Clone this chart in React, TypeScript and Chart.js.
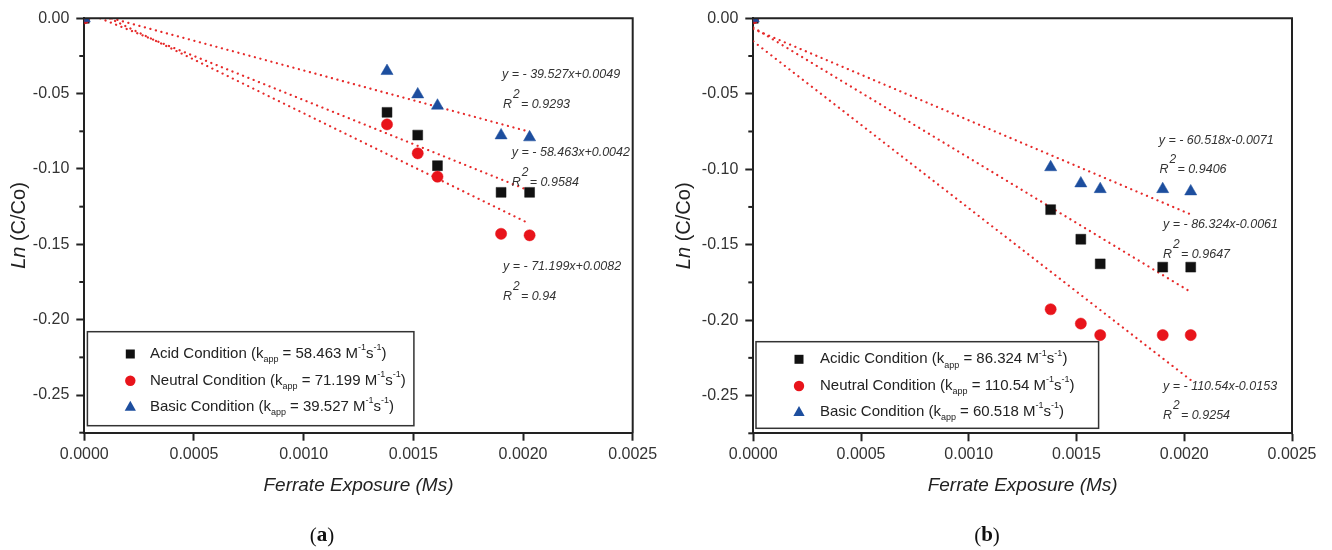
import React, { useEffect, useRef } from 'react';
import { Chart, registerables } from 'chart.js';

Chart.register(...registerables);

// ---------- data ----------
const exposure = [0, 0.00138, 0.00152, 0.00161, 0.0019, 0.00203];

const acidA = [0, -0.0624, -0.0775, -0.0978, -0.1155, -0.1155];
const neutralA = [0, -0.0704, -0.0896, -0.1051, -0.143, -0.144];
const basicA = [0, -0.035, -0.0505, -0.058, -0.0777, -0.079];
const slopesA = [-58.463, -71.199, -39.527];
const interceptsA = [0.0042, 0.0082, 0.0049];
const r2A = [0.9584, 0.94, 0.9293];
const namesA = ['Acid Condition', 'Neutral Condition', 'Basic Condition'];

const acidB = [0, -0.1268, -0.1464, -0.1627, -0.1649, -0.1649];
const neutralB = [0, -0.1928, -0.2023, -0.2099, -0.2099, -0.2099];
const basicB = [0, -0.0987, -0.1094, -0.1132, -0.1132, -0.1147];
const slopesB = [-86.324, -110.54, -60.518];
const interceptsB = [-0.0061, -0.0153, -0.0071];
const r2B = [0.9647, 0.9254, 0.9406];
const namesB = ['Acidic Condition', 'Neutral Condition', 'Basic Condition'];

const xMin = 0;
const xMax = 0.0025;
const xStep = 0.0005;
const yMin = -0.275;
const yMax = 0;
const yStep = 0.05;
const yMinorTicks = [-0.025, -0.075, -0.125, -0.175, -0.225, -0.275];

const xTitle = 'Ferrate Exposure (Ms)';
const yTitleItalic = 'Ln';
const yTitleRest = ' (C/Co)';

// ---------- styles ----------
const FONT = "'Liberation Sans', Arial, Helvetica, sans-serif";
const SERIF = "'Liberation Serif', 'Times New Roman', serif";
const colors = ['#111111', '#e8141b', '#1d4e9e'];
const styles = ['rect', 'circle', 'triangle'];
const radii = [7, 5.6, 7];
const LINE_RED = '#e62a2a';

type Panel = {
  left: number; width: number; height: number;
  area: { left: number; top: number; right: number; bottom: number };
  series: number[][]; slopes: number[]; intercepts: number[]; r2: number[]; names: string[];
  legendBox: number[]; legendMarkerX: number; legendTextX: number; legendRows: number[];
  eqPos: number[][]; rPos: number[][];
  yTitleX: number; caption: string; captionPos: number[];
};

const panels: Panel[] = [
  {
    left: 0, width: 666, height: 550,
    area: { left: 84.3, top: 18.3, right: 632.7, bottom: 432.7 },
    series: [acidA, neutralA, basicA], slopes: slopesA, intercepts: interceptsA, r2: r2A, names: namesA,
    legendBox: [87.4, 331.7, 413.9, 425.7], legendMarkerX: 130.3, legendTextX: 150, legendRows: [354, 380.7, 406.7],
    eqPos: [[511.8, 152.7], [503, 266.7], [502, 75]],
    rPos: [[511.8, 182.7], [503, 296.7], [503, 105]],
    yTitleX: 19, caption: 'a', captionPos: [322, 536],
  },
  {
    left: 666, width: 666, height: 550,
    area: { left: 87.3, top: 18.3, right: 626, bottom: 433.3 },
    series: [acidB, neutralB, basicB], slopes: slopesB, intercepts: interceptsB, r2: r2B, names: namesB,
    legendBox: [90, 341.7, 432.6, 428.3], legendMarkerX: 133, legendTextX: 154, legendRows: [359.3, 386, 412],
    eqPos: [[497, 225], [497, 386.7], [492.7, 141]],
    rPos: [[497, 254.3], [497, 416], [493.5, 170]],
    yTitleX: 18.7, caption: 'b', captionPos: [321, 536],
  },
];

type Run = { t: string; size: number; dy?: number; style?: string };

function drawRuns(ctx: CanvasRenderingContext2D, x: number, y: number, runs: Run[], family: string, color: string) {
  let cx = x;
  ctx.fillStyle = color;
  ctx.textBaseline = 'middle';
  ctx.textAlign = 'left';
  for (const r of runs) {
    ctx.font = `${r.style || ''} ${r.size}px ${family}`;
    ctx.fillText(r.t, cx, y + (r.dy || 0));
    cx += ctx.measureText(r.t).width;
  }
  return cx - x;
}

function drawMarker(ctx: CanvasRenderingContext2D, i: number, x: number, y: number) {
  ctx.fillStyle = colors[i];
  ctx.beginPath();
  if (i === 0) {
    ctx.rect(x - 4.5, y - 4.5, 9, 9);
  } else if (i === 1) {
    ctx.arc(x, y, 5.2, 0, Math.PI * 2);
  } else {
    ctx.moveTo(x, y - 6);
    ctx.lineTo(x + 5.6, y + 4);
    ctx.lineTo(x - 5.6, y + 4);
    ctx.closePath();
  }
  ctx.fill();
}

function fmtEq(m: number, b: number) {
  return `y = - ${Math.abs(m)}x${b >= 0 ? '+' : '-'}${Math.abs(b)}`;
}

function makeOverlay(p: Panel) {
  return {
    id: 'overlay' + p.caption,
    afterDraw(chart: any) {
      const ctx: CanvasRenderingContext2D = chart.ctx;
      const a = chart.chartArea;
      const ys = chart.scales.y;
      ctx.save();
      // frame top/right
      ctx.strokeStyle = '#222';
      ctx.lineWidth = 2;
      ctx.beginPath();
      ctx.moveTo(a.left - 1, a.top);
      ctx.lineTo(a.right, a.top);
      ctx.lineTo(a.right, a.bottom + 1);
      ctx.stroke();
      // minor y ticks
      ctx.lineWidth = 2;
      ctx.strokeStyle = '#222';
      for (const v of yMinorTicks) {
        const py = ys.getPixelForValue(v);
        ctx.beginPath();
        ctx.moveTo(a.left - 5, py);
        ctx.lineTo(a.left, py);
        ctx.stroke();
      }
      // legend box
      const [bx0, by0, bx1, by1] = p.legendBox;
      ctx.fillStyle = '#ffffff';
      ctx.fillRect(bx0, by0, bx1 - bx0, by1 - by0);
      ctx.strokeStyle = '#333';
      ctx.lineWidth = 1.5;
      ctx.strokeRect(bx0, by0, bx1 - bx0, by1 - by0);
      for (let i = 0; i < 3; i++) {
        const ry = p.legendRows[i];
        drawMarker(ctx, i, p.legendMarkerX, ry);
        drawRuns(ctx, p.legendTextX, ry, [
          { t: `${p.names[i]} (k`, size: 15 },
          { t: 'app', size: 9, dy: 6 },
          { t: ` = ${Math.abs(p.slopes[i])} M`, size: 15 },
          { t: '-1', size: 9, dy: -6 },
          { t: 's', size: 15 },
          { t: '-1', size: 9, dy: -6 },
          { t: ')', size: 15 },
        ], FONT, '#222');
      }
      // equations
      for (let i = 0; i < 3; i++) {
        const [ex, ey] = p.eqPos[i];
        drawRuns(ctx, ex, ey, [{ t: fmtEq(p.slopes[i], p.intercepts[i]), size: 12.5, style: 'italic' }], FONT, '#333');
        const [rx, ry] = p.rPos[i];
        ctx.font = `italic 12.5px ${FONT}`;
        const wR = ctx.measureText('R').width;
        drawRuns(ctx, rx, ry, [{ t: 'R', size: 12.5, style: 'italic' }], FONT, '#333');
        drawRuns(ctx, rx + wR + 1, ry - 10, [{ t: '2', size: 12, style: 'italic' }], FONT, '#333');
        drawRuns(ctx, rx + wR + 9, ry, [{ t: `= ${p.r2[i]}`, size: 12.5, style: 'italic' }], FONT, '#333');
      }
      // x title
      ctx.font = `italic 19px ${FONT}`;
      ctx.fillStyle = '#222';
      ctx.textAlign = 'center';
      ctx.textBaseline = 'middle';
      ctx.fillText(xTitle, (a.left + a.right) / 2, 486);
      // y title
      ctx.save();
      ctx.translate(p.yTitleX, (a.top + a.bottom) / 2);
      ctx.rotate(-Math.PI / 2);
      ctx.font = `italic 20px ${FONT}`;
      const w1 = ctx.measureText(yTitleItalic).width;
      ctx.font = `20px ${FONT}`;
      const w2 = ctx.measureText(yTitleRest).width;
      drawRuns(ctx, -(w1 + w2) / 2, 0, [
        { t: yTitleItalic, size: 20, style: 'italic' },
        { t: yTitleRest, size: 20 },
      ], FONT, '#222');
      ctx.restore();
      // caption
      ctx.font = `21px ${SERIF}`;
      const wp = ctx.measureText('(').width;
      ctx.font = `bold 21px ${SERIF}`;
      const wa = ctx.measureText(p.caption).width;
      const total = wp * 2 + wa;
      drawRuns(ctx, p.captionPos[0] - total / 2, p.captionPos[1], [
        { t: '(', size: 21 },
        { t: p.caption, size: 21, style: 'bold' },
        { t: ')', size: 21 },
      ], SERIF, '#111');
      ctx.restore();
    },
  };
}

function buildConfig(p: Panel): any {
  const xEnd = Math.max(...exposure);
  const datasets: any[] = [];
  // points: triangles on top
  for (let i = 0; i < 3; i++) {
    datasets.push({
      label: p.names[i],
      data: exposure.map((x, k) => ({ x, y: p.series[i][k] })),
      pointStyle: styles[i],
      pointRadius: radii[i],
      pointBackgroundColor: colors[i],
      pointBorderColor: colors[i],
      pointBorderWidth: 0.5,
      showLine: false,
      order: 2 - i,
      clip: 0,
    });
  }
  for (let i = 0; i < 3; i++) {
    datasets.push({
      label: 'fit ' + p.names[i],
      data: [
        { x: 0, y: p.intercepts[i] },
        { x: xEnd, y: p.slopes[i] * xEnd + p.intercepts[i] },
      ],
      showLine: true,
      pointRadius: 0,
      borderColor: LINE_RED,
      borderWidth: 2.2,
      borderCapStyle: 'round',
      borderDash: [0.1, 5.6],
      order: 10,
      clip: 0,
    });
  }
  const area = p.area;
  return {
    type: 'scatter',
    data: { datasets },
    options: {
      responsive: false,
      animation: false,
      events: [],
      layout: { padding: { left: 0, top: area.top, right: p.width - area.right, bottom: 0 } },
      plugins: { legend: { display: false }, tooltip: { enabled: false }, title: { display: false } },
      scales: {
        x: {
          type: 'linear',
          min: xMin,
          max: xMax,
          ticks: {
            stepSize: xStep,
            includeBounds: false,
            autoSkip: false,
            maxRotation: 0,
            padding: 4,
            color: '#333',
            font: { family: FONT, size: 16 },
            callback: (v: any) => Number(v).toFixed(4),
          },
          grid: { drawOnChartArea: false, drawTicks: true, tickLength: 8, tickColor: '#222', tickWidth: 2 },
          border: { display: true, color: '#222', width: 2 },
          afterFit: (s: any) => { s.height = p.height - area.bottom; },
        },
        y: {
          type: 'linear',
          min: yMin,
          max: yMax,
          ticks: {
            stepSize: yStep,
            includeBounds: false,
            autoSkip: false,
            padding: 7,
            color: '#333',
            font: { family: FONT, size: 16 },
            callback: (v: any) => (Math.abs(Number(v)) < 1e-9 ? '0.00' : Number(v).toFixed(2)),
          },
          grid: { drawOnChartArea: false, drawTicks: true, tickLength: 8, tickColor: '#222', tickWidth: 2 },
          border: { display: true, color: '#222', width: 2 },
          afterFit: (s: any) => { s.width = area.left; },
        },
      },
    },
    plugins: [makeOverlay(p)],
  };
}

function PanelChart({ p }: { p: Panel }) {
  const ref = useRef<HTMLCanvasElement | null>(null);
  useEffect(() => {
    if (!ref.current) return;
    const chart = new Chart(ref.current, buildConfig(p));
    return () => chart.destroy();
  }, [p]);
  return (
    <canvas
      ref={ref}
      width={p.width}
      height={p.height}
      style={{ position: 'absolute', left: p.left, top: 0, width: p.width, height: p.height }}
    />
  );
}

export default function App() {
  return (
    <div style={{ position: 'fixed', left: 0, top: 0, width: 1332, height: 550, background: '#ffffff', overflow: 'hidden' }}>
      {panels.map((p) => (
        <PanelChart key={p.caption} p={p} />
      ))}
    </div>
  );
}
